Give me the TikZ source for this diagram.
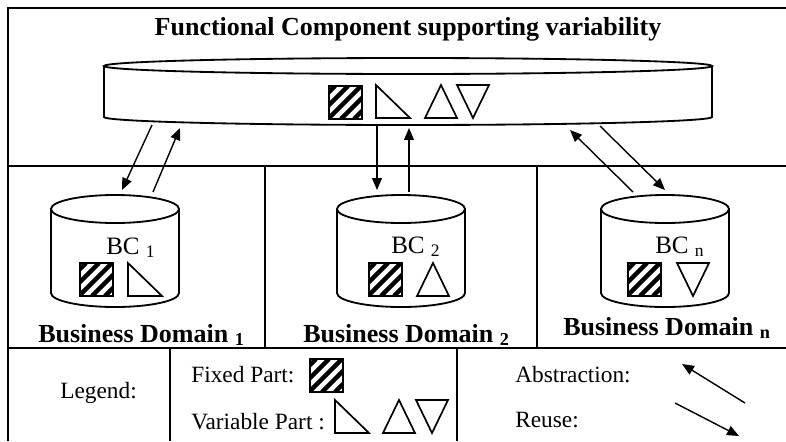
\documentclass[tikz,border=0pt]{standalone}
\usepackage{fontspec}
\setmainfont{Liberation Serif}
\usepackage{tikz}
\usetikzlibrary{arrows.meta}

\tikzset{
  pics/drum/.style n args={3}{code={
    \draw[line width=1.3pt] (-#1,0) -- (-#1,#3) arc[start angle=180, end angle=0, x radius=#1, y radius=#2] -- (#1,0);
    \draw[line width=1.3pt] (0,0) ellipse[x radius=#1, y radius=#2];
  }},
  pics/fixedpart/.style={code={
    \begin{scope}
      \clip (0,0) rectangle (33,33);
      \foreach \s in {-40,-27,...,38} \draw[line width=3.2pt] (\s,33) -- ++(33,-33);
    \end{scope}
    \draw[line width=1.2pt] (0,0) rectangle (33,33);
  }},
  pics/rtri/.style={code={\draw[line width=1.2pt] (0,0) -- (0,33) -- (34,33) -- cycle;}},
  pics/uptri/.style={code={\draw[line width=1.2pt] (0,33) -- (32,33) -- (16,0) -- cycle;}},
  pics/dntri/.style={code={\draw[line width=1.2pt] (0,0) -- (32,0) -- (16,33) -- cycle;}},
}

\begin{document}
\begin{tikzpicture}[x=0.025cm, y=-0.025cm,
    border/.style={line width=1.4pt},
    flow/.style={line width=1pt, -{Triangle[length=8.5pt, width=7pt]}},
    headline/.style={font=\bfseries\fontsize{18.5}{22}\selectfont, inner sep=0pt, anchor=base},
    bdlabel/.style={font=\bfseries\fontsize{18.5}{22}\selectfont, inner sep=0pt, anchor=base west},
    bctext/.style={font=\fontsize{17.8}{21}\selectfont, inner sep=0pt, anchor=base west},
    legendtext/.style={font=\fontsize{16.6}{20}\selectfont, inner sep=0pt, anchor=base west}]
    \useasboundingbox (0,0) rectangle (786,441);

    \draw[border] (786,8) -- (8,8) -- (8,441);
    \draw[border] (8,166) -- (786,166) (8,348) -- (786,348);
    \draw[border] (265,166) -- (265,348) (537,166) -- (537,348);
    \draw[border] (170,348) -- (170,441) (457,348) -- (457,441);

    \node[headline] (fc) at (408,35) {Functional Component supporting variability};
    \pic at (408,66) {drum={304}{8}{51}};
    \pic at (329,86) {fixedpart};
    \pic at (376,85) {rtri};
    \pic at (425,85) {uptri};
    \pic at (457,85) {dntri};

    \pic at (115,209) {drum={64}{14}{84}};
    \pic at (401,209) {drum={64}{14}{84}};
    \pic at (665,209) {drum={64}{14}{84}};

    \node[bctext] (bc1) at (106,254) {BC \textsubscript{1}};
    \node[bctext] (bc2) at (391,253) {BC \textsubscript{2}};
    \node[bctext] (bcn) at (655,253) {BC \textsubscript{n}};
    \pic at (80,263) {fixedpart};
    \pic at (128,263) {rtri};
    \pic at (369,263) {fixedpart};
    \pic at (417,263) {uptri};
    \pic at (628,263) {fixedpart};
    \pic at (677,263) {dntri};

    \node[bdlabel] (bd1) at (38,342) {Business Domain \textsubscript{1}};
    \node[bdlabel] (bd2) at (303,342) {Business Domain \textsubscript{2}};
    \node[bdlabel] (bdn) at (563,335) {Business Domain \textsubscript{n}};

    \coordinate (fc-out1) at (152,125);
    \coordinate (bc1-in) at (122,190);
    \coordinate (bc1-out) at (153,192);
    \coordinate (fc-in1) at (180,128);
    \coordinate (fc-out2) at (377,126);
    \coordinate (bc2-in) at (377,190);
    \coordinate (bc2-out) at (409,192);
    \coordinate (fc-in2) at (409,128);
    \coordinate (fc-out3) at (600,126);
    \coordinate (bcn-in) at (665,190);
    \coordinate (bcn-out) at (633,192);
    \coordinate (fc-in3) at (570,130);
    \draw[flow] (fc-out1) -- (bc1-in);
    \draw[flow] (bc1-out) -- (fc-in1);
    \draw[flow] (fc-out2) -- (bc2-in);
    \draw[flow] (bc2-out) -- (fc-in2);
    \draw[flow] (fc-out3) -- (bcn-in);
    \draw[flow] (bcn-out) -- (fc-in3);

    \node[legendtext] (lg) at (60,398) {Legend:};
    \node[legendtext] (fixed) at (191,382) {Fixed Part:};
    \pic at (310,359) {fixedpart};
    \node[legendtext] (var) at (191,429) {Variable Part :};
    \pic at (335,400) {rtri};
    \pic at (383,400) {uptri};
    \pic at (416,400) {dntri};
    \node[legendtext] (abs) at (515,382) {Abstraction:};
    \node[legendtext] (reu) at (515,427) {Reuse:};
    \coordinate (abs-from) at (745,403);
    \coordinate (abs-to) at (682,364);
    \coordinate (reu-from) at (675,403);
    \coordinate (reu-to) at (739,436);
    \draw[flow] (abs-from) -- (abs-to);
    \draw[flow] (reu-from) -- (reu-to);
\end{tikzpicture}
\end{document}
